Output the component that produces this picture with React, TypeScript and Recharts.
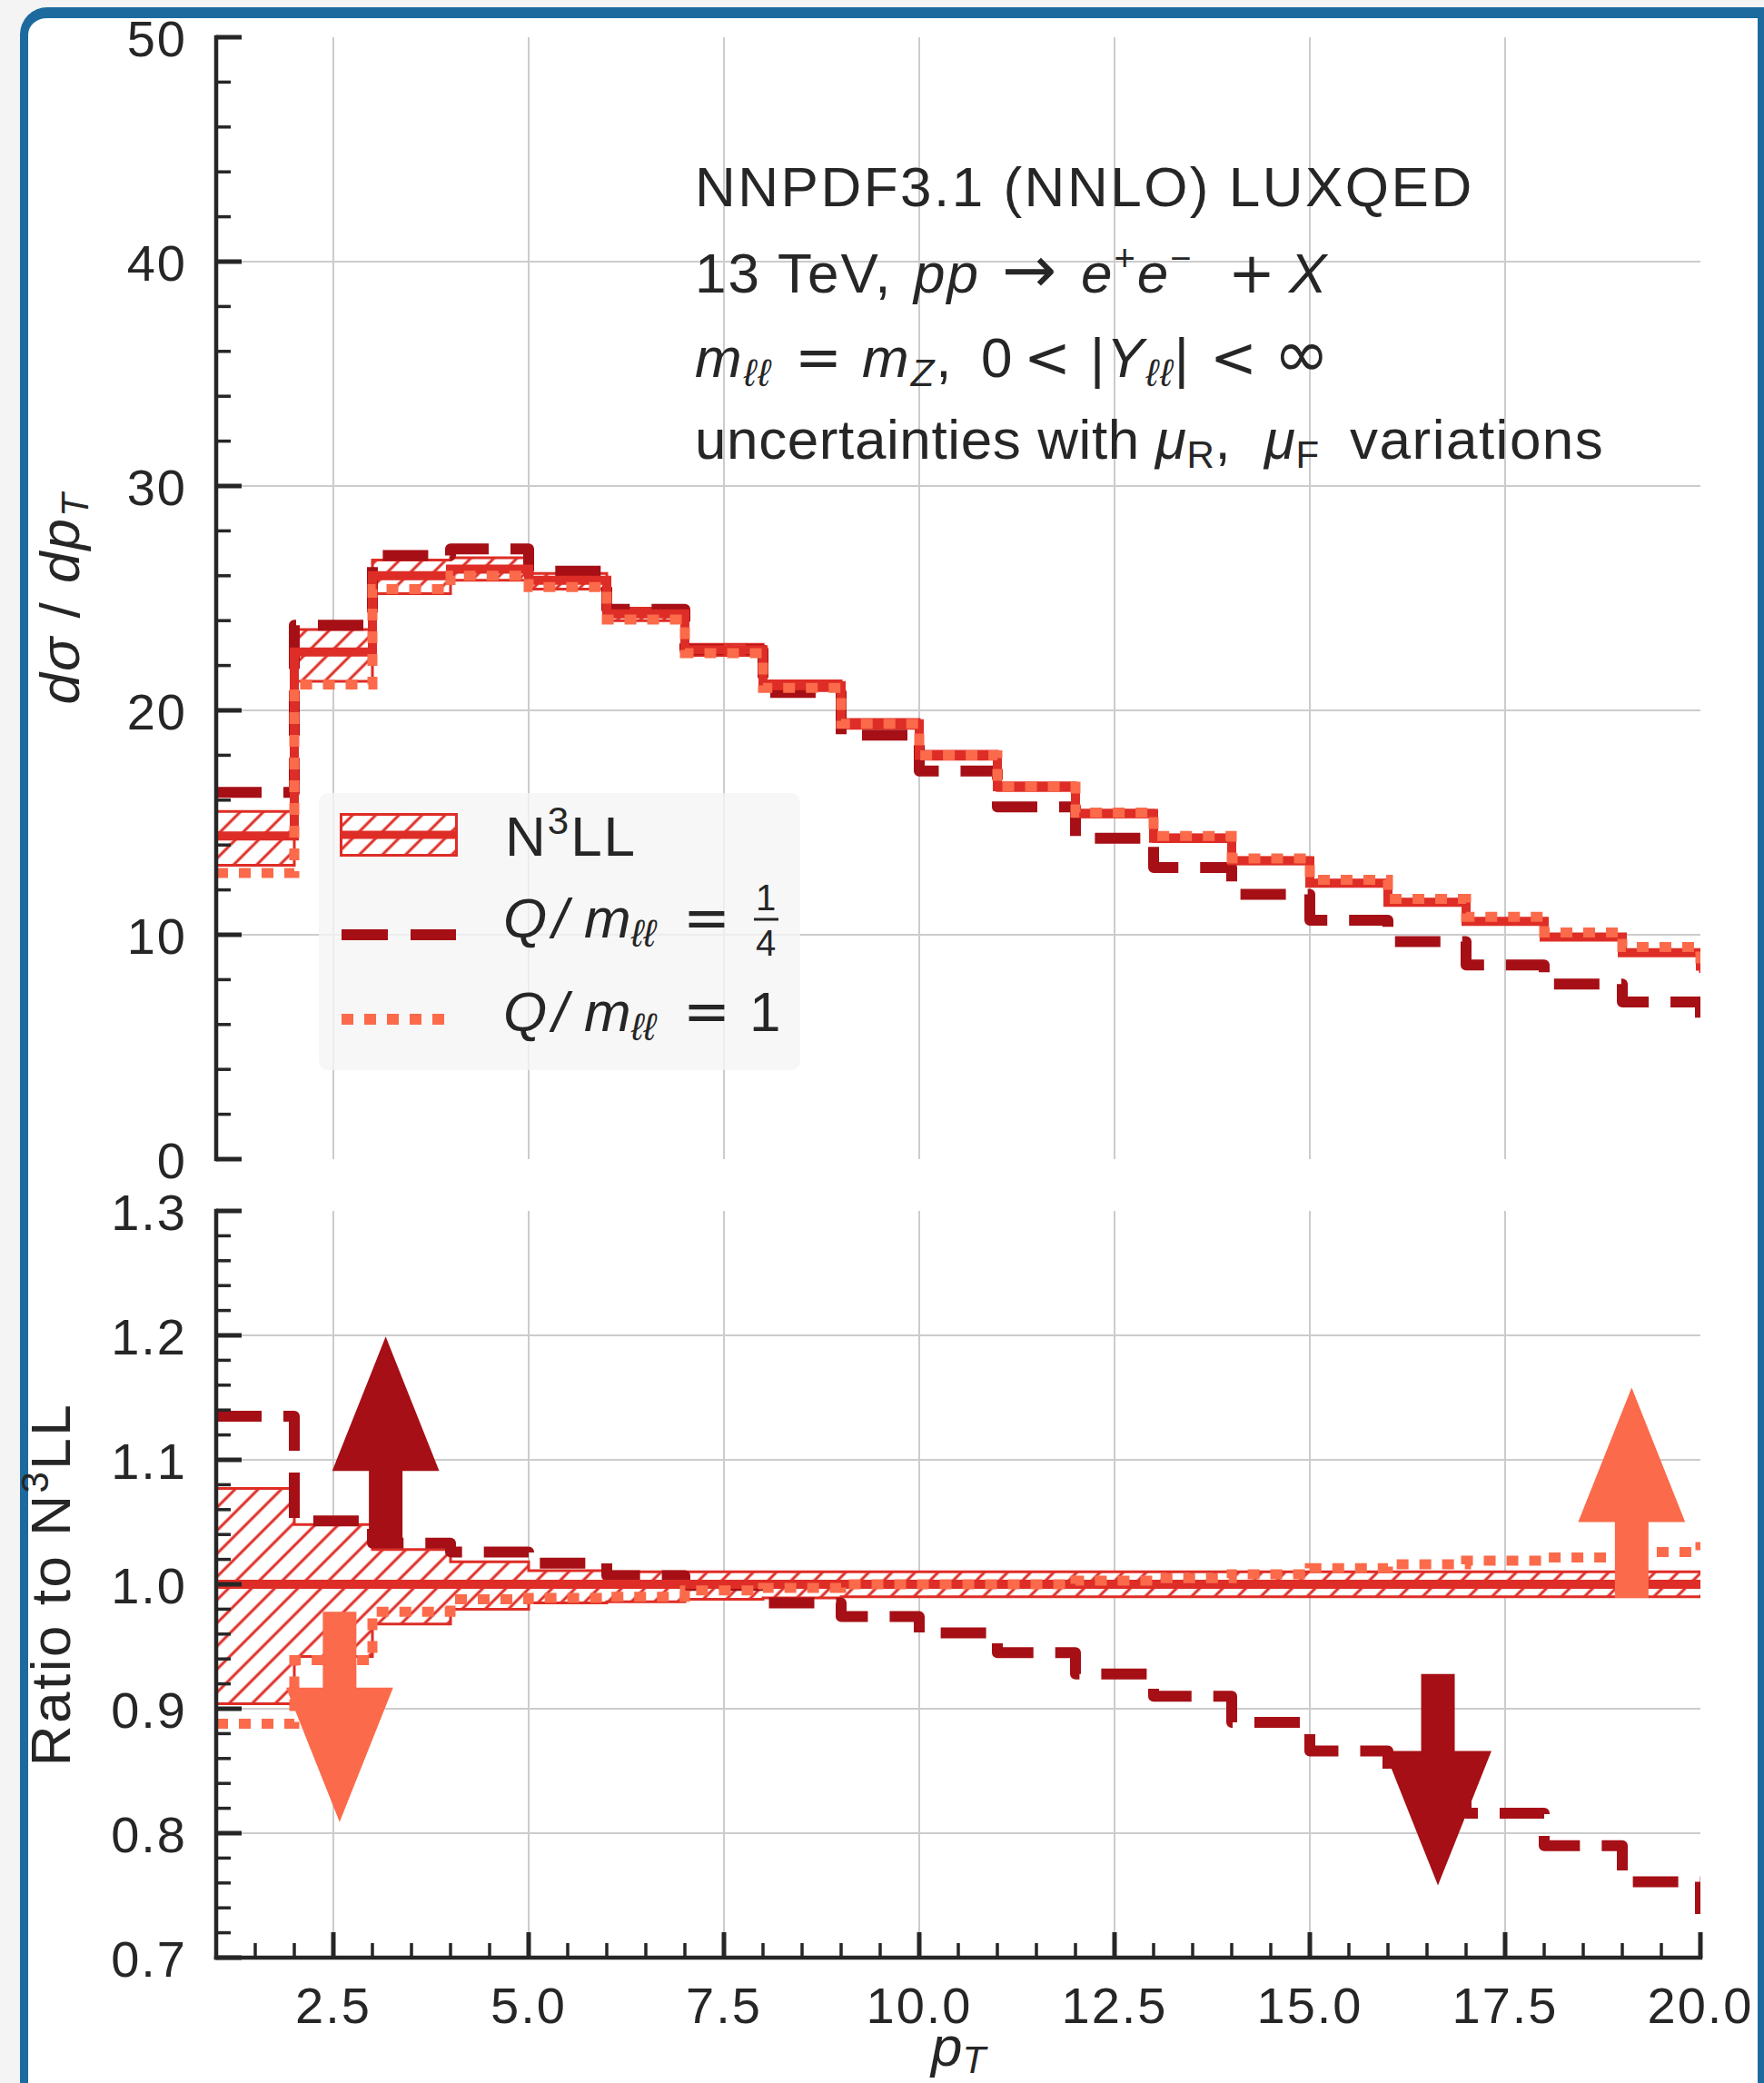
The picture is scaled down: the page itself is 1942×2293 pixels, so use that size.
import React from 'react';
import { ComposedChart, Line, Area, XAxis, YAxis, CartesianGrid, ReferenceArea, Label } from 'recharts';

const FONT = '"Liberation Sans", Arial, sans-serif';
const SYM = '"DejaVu Sans", sans-serif';
const INK = '#262626';
const GRID = '#cccccc';
const C_N3LL = '#de2d26';
const C_QUARTER = '#a50f15';
const C_ONE = '#fb6a4a';
const FRAME = '#1c6a9e';

// lower bin edge of each pT bin (last entry only sets the drop at the right border)
const ptBins = [1, 2, 3, 4, 5, 6, 7, 8, 9, 10, 11, 12, 13, 14, 15, 16, 17, 18, 19, 20];

// top panel: dsigma/dpT
const n3llCentral = [14.4, 22.6, 26.0, 26.3, 25.8, 24.3, 22.7, 21.1, 19.4, 18.0, 16.6, 15.4, 14.3, 13.3, 12.3, 11.45, 10.6, 9.9, 9.2, 8.4];
const n3llLow = [13.1, 21.3, 25.2, 25.8, 25.4, 24.0, 22.45, 20.88, 19.2, 17.82, 16.43, 15.25, 14.15, 13.17, 12.18, 11.33, 10.5, 9.8, 9.1, 8.3];
const n3llHigh = [15.5, 23.6, 26.7, 26.8, 26.1, 24.55, 22.95, 21.32, 19.6, 18.18, 16.77, 15.55, 14.45, 13.43, 12.42, 11.57, 10.7, 10.0, 9.3, 8.5];
const quarterScale = [16.35, 23.8, 26.9, 27.2, 26.2, 24.5, 22.7, 20.8, 18.9, 17.3, 15.7, 14.3, 13.0, 11.8, 10.65, 9.7, 8.65, 7.8, 7.0, 6.2];
const unitScale = [12.75, 21.15, 25.4, 26.0, 25.5, 24.05, 22.55, 21.0, 19.4, 18.0, 16.6, 15.45, 14.4, 13.4, 12.45, 11.6, 10.8, 10.1, 9.45, 8.7];

// bottom panel: ratio to N3LL
const ratioCentral = [1.0, 1.0, 1.0, 1.0, 1.0, 1.0, 1.0, 1.0, 1.0, 1.0, 1.0, 1.0, 1.0, 1.0, 1.0, 1.0, 1.0, 1.0, 1.0, 1.0];
const ratioLow = [0.904, 0.942, 0.968, 0.98, 0.985, 0.986, 0.988, 0.989, 0.99, 0.99, 0.99, 0.99, 0.99, 0.99, 0.99, 0.99, 0.99, 0.99, 0.99, 0.99];
const ratioHigh = [1.077, 1.048, 1.028, 1.018, 1.011, 1.01, 1.01, 1.01, 1.01, 1.01, 1.01, 1.01, 1.01, 1.01, 1.01, 1.01, 1.01, 1.01, 1.01, 1.01];
const ratioQuarter = [1.135, 1.051, 1.033, 1.026, 1.017, 1.007, 0.999, 0.985, 0.974, 0.961, 0.945, 0.928, 0.91, 0.889, 0.866, 0.847, 0.816, 0.79, 0.761, 0.735];
const ratioUnit = [0.888, 0.939, 0.978, 0.988, 0.989, 0.99, 0.995, 0.997, 1.0, 1.0, 1.0, 1.003, 1.005, 1.008, 1.013, 1.016, 1.019, 1.0215, 1.026, 1.034];

// arrows in the ratio panel
const arrowX = [3.17, 2.58, 16.64, 19.12];
const arrowFrom = [1.034, 0.978, 0.928, 0.989];
const arrowTo = [1.199, 0.809, 0.758, 1.158];
const arrowScale = ['quarter', 'one', 'quarter', 'one'];

const xMajorTicks = [2.5, 5, 7.5, 10, 12.5, 15, 17.5, 20];
const topYMajorTicks = [0, 10, 20, 30, 40, 50];
const ratioYMajorTicks = [0.7, 0.8, 0.9, 1.0, 1.1, 1.2, 1.3];

const ARROW_HEAD_W = 1.37;
const ARROW_SHAFT_W = 0.43;
const ARROW_HEAD_L = 0.108;

const steps = (from: number, to: number, step: number) =>
  Array.from({ length: Math.round((to - from) / step) + 1 }, (_, i) => +(from + i * step).toFixed(4));

const xAllTicks = steps(1.5, 20, 0.5);
const topYAllTicks = steps(0, 50, 2);
const ratioYAllTicks = steps(0.7, 1.3, 0.02);

const topData = ptBins.map((pt, i) => ({
  pt,
  central: n3llCentral[i],
  band: [n3llLow[i], n3llHigh[i]],
  quarter: quarterScale[i],
  unit: unitScale[i],
}));

const ratioData = ptBins.map((pt, i) => ({
  pt,
  central: ratioCentral[i],
  band: [ratioLow[i], ratioHigh[i]],
  quarter: ratioQuarter[i],
  unit: ratioUnit[i],
}));

const spine = { stroke: INK, strokeWidth: 4.5, strokeLinecap: 'square' as const };

const isMajor = (v: number, majors: number[]) => majors.some((m) => Math.abs(m - v) < 1e-6);

// inward ticks, drawn by hand so major and minor can share one axis
const makeTick = (side: 'bottom' | 'top' | 'left' | 'right', majors: number[], fmt?: (v: number) => string) =>
  (props: any) => {
    const { x, y, payload } = props;
    const v = payload.value;
    const major = isMajor(v, majors);
    const len = major ? 28 : 16;
    const w = major ? 5 : 3.5;
    let line;
    if (side === 'bottom') line = <line x1={x} x2={x} y1={y} y2={y - len} stroke={INK} strokeWidth={w} />;
    else if (side === 'top') line = <line x1={x} x2={x} y1={y} y2={y + len} stroke={INK} strokeWidth={w} />;
    else if (side === 'left') line = <line x1={x} x2={x + len} y1={y} y2={y} stroke={INK} strokeWidth={w} />;
    else line = <line x1={x} x2={x - len} y1={y} y2={y} stroke={INK} strokeWidth={w} />;
    let text = null;
    if (fmt && major) {
      if (side === 'bottom')
        text = (
          <text x={x} y={y + 72} textAnchor="middle" fontFamily={FONT} fontSize={56} letterSpacing={2} fill={INK}>
            {fmt(v)}
          </text>
        );
      if (side === 'left')
        text = (
          <text x={x - 32} y={y} dy="0.37em" textAnchor="end" fontFamily={FONT} fontSize={56} letterSpacing={2} fill={INK}>
            {fmt(v)}
          </text>
        );
    }
    return (
      <g>
        {line}
        {text}
      </g>
    );
  };

const Arrow = (props: any) => {
  const { x, y, width, height, up, headFrac, shaftFrac, color } = props;
  const cx = x + width / 2;
  const hw = width / 2;
  const sw = (shaftFrac * width) / 2;
  const hl = headFrac * height;
  const tip = up ? y : y + height;
  const base = up ? y + height : y;
  const hb = up ? y + hl : y + height - hl;
  const pts = [
    [cx, tip],
    [cx + hw, hb],
    [cx + sw, hb],
    [cx + sw, base],
    [cx - sw, base],
    [cx - sw, hb],
    [cx - hw, hb],
  ]
    .map((p) => p.join(','))
    .join(' ');
  return <polygon points={pts} fill={color} stroke="none" />;
};

const series = () => [
  <Line key="q" dataKey="quarter" type="stepAfter" stroke={C_QUARTER} strokeWidth={12} strokeDasharray="50 24" strokeLinejoin="round" dot={false} activeDot={false} isAnimationActive={false} />,
  <Area key="b" dataKey="band" type="stepAfter" stroke={C_N3LL} strokeWidth={3} fill="url(#hatch)" fillOpacity={1} dot={false} activeDot={false} isAnimationActive={false} />,
  <Line key="c" dataKey="central" type="stepAfter" stroke={C_N3LL} strokeWidth={10} dot={false} activeDot={false} isAnimationActive={false} />,
  <Line key="u" dataKey="unit" type="stepAfter" stroke={C_ONE} strokeWidth={11} strokeDasharray="13 12" dot={false} activeDot={false} isAnimationActive={false} />,
];

function TopPanel() {
  return (
    <ComposedChart width={1942} height={1320} data={topData} margin={{ top: 41, right: 70, bottom: 44, left: 0 }}>
      <CartesianGrid stroke={GRID} strokeWidth={2} verticalValues={[2.5, 5, 7.5, 10, 12.5, 15, 17.5]} horizontalValues={[10, 20, 30, 40]} />
      <XAxis dataKey="pt" type="number" domain={[1, 20]} allowDataOverflow ticks={xAllTicks} interval={0} height={0} tickSize={0} tickMargin={0} tickLine={false} axisLine={spine} tick={makeTick('bottom', xMajorTicks)} />
      <XAxis xAxisId="top" orientation="top" dataKey="pt" type="number" domain={[1, 20]} allowDataOverflow ticks={xAllTicks} interval={0} height={0} tickSize={0} tickMargin={0} tickLine={false} axisLine={spine} tick={makeTick('top', xMajorTicks)} />
      <YAxis type="number" domain={[0, 50]} allowDataOverflow ticks={topYAllTicks} interval={0} width={238} tickSize={0} tickMargin={0} tickLine={false} axisLine={spine} tick={makeTick('left', topYMajorTicks, (v) => String(v))}>
        <Label
          content={(p: any) => {
            const vb = p.viewBox || { y: 41, height: 1235 };
            const cy = vb.y + vb.height / 2;
            return (
              <text transform={`translate(87, ${cy}) rotate(-90)`} textAnchor="middle" fontFamily={FONT} fontSize={62} letterSpacing={2} fill={INK}>
                <tspan fontStyle="italic">dσ</tspan>
                <tspan> / </tspan>
                <tspan fontStyle="italic">dp</tspan>
                <tspan fontStyle="italic" fontSize={42} dy={10}>T</tspan>
              </text>
            );
          }}
        />
      </YAxis>
      <YAxis yAxisId="right" orientation="right" type="number" domain={[0, 50]} allowDataOverflow ticks={topYAllTicks} interval={0} width={0} tickSize={0} tickMargin={0} tickLine={false} axisLine={spine} tick={makeTick('right', topYMajorTicks)} />
      {series()}
    </ComposedChart>
  );
}

function RatioPanel() {
  return (
    <ComposedChart width={1942} height={993} data={ratioData} margin={{ top: 33, right: 70, bottom: 0, left: 0 }}>
      <CartesianGrid stroke={GRID} strokeWidth={2} verticalValues={[2.5, 5, 7.5, 10, 12.5, 15, 17.5]} horizontalValues={[0.8, 0.9, 1.0, 1.1, 1.2]} />
      <XAxis dataKey="pt" type="number" domain={[1, 20]} allowDataOverflow ticks={xAllTicks} interval={0} height={138} tickSize={0} tickMargin={0} tickLine={false} axisLine={spine} tick={makeTick('bottom', xMajorTicks, (v) => v.toFixed(1))}>
        <Label
          content={(p: any) => {
            const vb = p.viewBox || { x: 238, y: 855, width: 1634 };
            return (
              <text x={vb.x + vb.width / 2} y={vb.y + 119} textAnchor="middle" fontFamily={FONT} fontSize={62} fill={INK}>
                <tspan fontStyle="italic">p</tspan>
                <tspan fontStyle="italic" fontSize={42} dy={8}>T</tspan>
              </text>
            );
          }}
        />
      </XAxis>
      <XAxis xAxisId="top" orientation="top" dataKey="pt" type="number" domain={[1, 20]} allowDataOverflow ticks={xAllTicks} interval={0} height={0} tickSize={0} tickMargin={0} tickLine={false} axisLine={spine} tick={makeTick('top', xMajorTicks)} />
      <YAxis type="number" domain={[0.7, 1.3]} allowDataOverflow ticks={ratioYAllTicks} interval={0} width={238} tickSize={0} tickMargin={0} tickLine={false} axisLine={spine} tick={makeTick('left', ratioYMajorTicks, (v) => v.toFixed(1))}>
        <Label
          content={(p: any) => {
            const vb = p.viewBox || { y: 33, height: 822 };
            const cy = vb.y + vb.height / 2;
            return (
              <text transform={`translate(77, ${cy}) rotate(-90)`} textAnchor="middle" fontFamily={FONT} fontSize={62} letterSpacing={2.5} fill={INK}>
                <tspan>Ratio to N</tspan>
                <tspan fontSize={42} dy={-24}>3</tspan>
                <tspan dy={24}>LL</tspan>
              </text>
            );
          }}
        />
      </YAxis>
      <YAxis yAxisId="right" orientation="right" type="number" domain={[0.7, 1.3]} allowDataOverflow ticks={ratioYAllTicks} interval={0} width={0} tickSize={0} tickMargin={0} tickLine={false} axisLine={spine} tick={makeTick('right', ratioYMajorTicks)} />
      {series()}
      {arrowX.map((x, i) => {
        const from = arrowFrom[i];
        const to = arrowTo[i];
        const color = arrowScale[i] === 'quarter' ? C_QUARTER : C_ONE;
        return (
          <ReferenceArea
            key={`arrow-${i}`}
            x1={x - ARROW_HEAD_W / 2}
            x2={x + ARROW_HEAD_W / 2}
            y1={Math.min(from, to)}
            y2={Math.max(from, to)}
            ifOverflow="visible"
            zIndex={1500}
            shape={(p: any) => (
              <Arrow {...p} up={to > from} headFrac={ARROW_HEAD_L / Math.abs(to - from)} shaftFrac={ARROW_SHAFT_W / ARROW_HEAD_W} color={color} />
            )}
          />
        );
      })}
    </ComposedChart>
  );
}

function Overlay() {
  const big = { fontFamily: FONT, fontSize: 62, fill: INK } as const;
  return (
    <svg width={1942} height={2293} style={{ position: 'absolute', left: 0, top: 0, pointerEvents: 'none' }}>
      <defs>
        <pattern id="hatch" patternUnits="userSpaceOnUse" width={18} height={18} patternTransform="rotate(45)">
          <rect width={18} height={18} fill="#ffffff" />
          <line x1={9} y1={0} x2={9} y2={18} stroke={C_N3LL} strokeWidth={3} />
        </pattern>
      </defs>

      {/* annotation block */}
      <text x={765} y={227} {...big} letterSpacing={2.5}>NNPDF3.1 (NNLO) LUXQED</text>
      <text y={322} {...big} letterSpacing={2}>
        <tspan x={765}>13 TeV,</tspan>
        <tspan x={1006} fontStyle="italic">pp</tspan>
        <tspan x={1103} fontFamily={SYM} fontSize={72}>→</tspan>
        <tspan x={1190} fontSize={62} fontStyle="italic">e</tspan>
        <tspan fontSize={40} dy={-24}>+</tspan>
        <tspan fontStyle="italic" dy={24}>e</tspan>
        <tspan fontSize={40} dy={-24}>−</tspan>
        <tspan x={1352} dy={24} fontFamily={SYM}>+</tspan>
        <tspan x={1419} fontStyle="italic">X</tspan>
      </text>
      <text y={415} {...big} letterSpacing={2}>
        <tspan x={765} fontStyle="italic">m</tspan>
        <tspan fontStyle="italic" fontSize={42} dy={10}>ℓℓ</tspan>
        <tspan x={875} dy={-10} fontFamily={SYM}>=</tspan>
        <tspan x={949} fontStyle="italic">m</tspan>
        <tspan fontStyle="italic" fontSize={42} dy={10}>Z</tspan>
        <tspan dy={-10}>,</tspan>
        <tspan x={1080}>0</tspan>
        <tspan x={1127} fontFamily={SYM}>&lt;</tspan>
        <tspan x={1200}>|</tspan>
        <tspan fontStyle="italic">Y</tspan>
        <tspan fontStyle="italic" fontSize={42} dy={10}>ℓℓ</tspan>
        <tspan dy={-10}>|</tspan>
        <tspan x={1332} fontFamily={SYM}>&lt;</tspan>
        <tspan x={1402} fontFamily={SYM} fontSize={74}>∞</tspan>
      </text>
      <text y={505} {...big} letterSpacing={0.6}>
        <tspan x={765}>uncertainties with</tspan>
        <tspan x={1272} fontStyle="italic">μ</tspan>
        <tspan fontSize={42} dy={10}>R</tspan>
        <tspan dy={-10}>,</tspan>
        <tspan x={1392} fontStyle="italic">μ</tspan>
        <tspan fontSize={42} dy={10}>F</tspan>
        <tspan x={1486} dy={-10} letterSpacing={1.5}>variations</tspan>
      </text>

      {/* legend */}
      <rect x={351} y={873} width={530} height={305} rx={10} fill="rgba(245,245,245,0.8)" />
      <rect x={375.5} y={896.5} width={127} height={45} fill="url(#hatch)" stroke={C_N3LL} strokeWidth={3} />
      <line x1={375} x2={503} y1={919} y2={919} stroke={C_N3LL} strokeWidth={9} />
      <text x={556} y={942} {...big} letterSpacing={2}>
        <tspan>N</tspan>
        <tspan fontSize={42} dy={-24}>3</tspan>
        <tspan dy={24}>LL</tspan>
      </text>

      <line x1={376} x2={502} y1={1029} y2={1029} stroke={C_QUARTER} strokeWidth={12} strokeDasharray="51 25" />
      <text y={1032} {...big}>
        <tspan x={554} fontStyle="italic">Q</tspan>
        <tspan x={608} fontStyle="italic">/</tspan>
        <tspan x={643} fontStyle="italic">m</tspan>
        <tspan fontStyle="italic" fontSize={42} dy={10}>ℓℓ</tspan>
        <tspan x={752} dy={-10} fontFamily={SYM}>=</tspan>
      </text>
      <text x={843} y={1002} textAnchor="middle" fontFamily={FONT} fontSize={40} fill={INK}>1</text>
      <line x1={830} x2={857} y1={1012} y2={1012} stroke={INK} strokeWidth={3} />
      <text x={843} y={1052} textAnchor="middle" fontFamily={FONT} fontSize={40} fill={INK}>4</text>

      <line x1={376} x2={490} y1={1122} y2={1122} stroke={C_ONE} strokeWidth={12} strokeDasharray="13 12" />
      <text y={1135} {...big}>
        <tspan x={554} fontStyle="italic">Q</tspan>
        <tspan x={608} fontStyle="italic">/</tspan>
        <tspan x={643} fontStyle="italic">m</tspan>
        <tspan fontStyle="italic" fontSize={42} dy={10}>ℓℓ</tspan>
        <tspan x={752} dy={-10} fontFamily={SYM}>=</tspan>
        <tspan x={825}>1</tspan>
      </text>
    </svg>
  );
}

export default function App() {
  return (
    <div style={{ position: 'absolute', left: 0, top: 0, width: 1942, height: 2293, background: '#f4f4f4', overflow: 'hidden' }}>
      <div
        style={{
          position: 'absolute',
          left: 22,
          top: 8,
          width: 1920,
          height: 2285,
          boxSizing: 'border-box',
          background: '#ffffff',
          borderTop: `12px solid ${FRAME}`,
          borderLeft: `9px solid ${FRAME}`,
          borderRight: `7px solid ${FRAME}`,
          borderTopLeftRadius: 30,
        }}
      />
      <div style={{ position: 'absolute', left: 0, top: 0 }}>
        <TopPanel />
      </div>
      <div style={{ position: 'absolute', left: 0, top: 1300 }}>
        <RatioPanel />
      </div>
      <Overlay />
    </div>
  );
}
